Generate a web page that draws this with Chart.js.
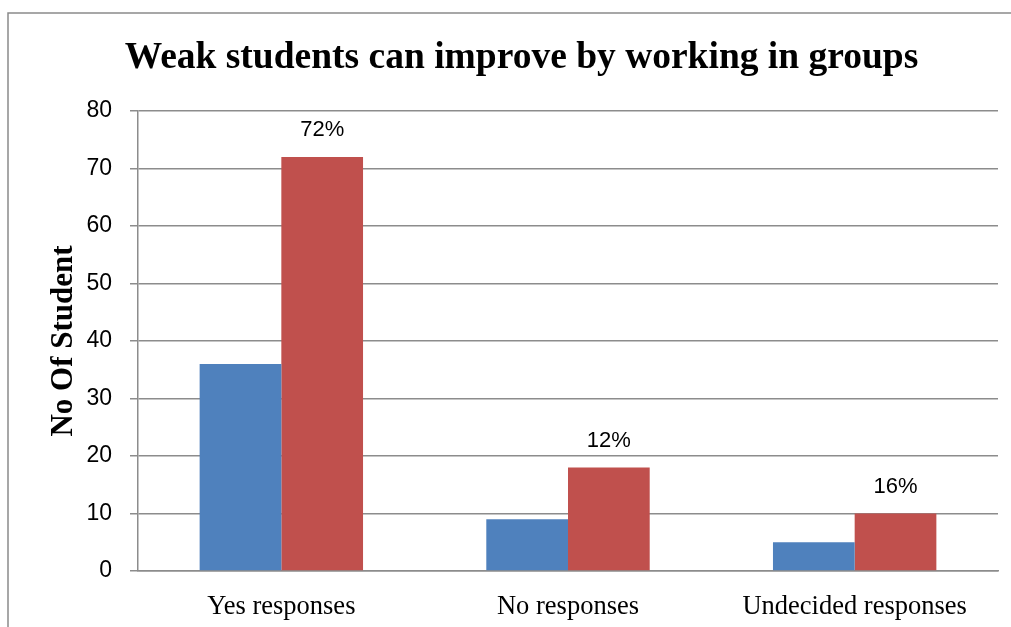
<!DOCTYPE html>
<html>
<head>
<meta charset="utf-8">
<script src="https://cdn.jsdelivr.net/npm/chart.js@4"></script>
<style>
  html, body { margin: 0; padding: 0; background: #fff; }
  #wrap { width: 1011px; height: 627px; }
</style>
</head>
<body>
<div id="wrap"><canvas id="myChart" width="1011" height="627"></canvas></div>
<script>
// chart data
const categories = ['Yes responses', 'No responses', 'Undecided responses'];
const studentCounts = [36, 9, 5];
const percentValues = [72, 18, 10];
const percentLabels = ['72%', '12%', '16%'];
const yTicks = [0, 10, 20, 30, 40, 50, 60, 70, 80];

const gridGray = '#8c8c8c';
const sansFont = "'Liberation Sans', Arial, sans-serif";
const serifFont = "'Liberation Serif', 'Times New Roman', serif";

// frame lines round the chart (top and left only, like the source)
const framePlugin = {
    id: 'frame',
    beforeDraw(chart) {
        const c = chart.ctx;
        c.save();
        c.strokeStyle = '#8a8a8a';
        c.lineWidth = 1.5;
        c.beginPath();
        c.moveTo(8, chart.height);
        c.lineTo(8, 13);
        c.lineTo(chart.width, 13);
        c.stroke();
        c.restore();
    }
};

// percent labels over the red bars
const labelPlugin = {
    id: 'barLabels',
    afterDatasetsDraw(chart) {
        const c = chart.ctx;
        const meta = chart.getDatasetMeta(1);
        c.save();
        c.font = '22px ' + sansFont;
        c.fillStyle = '#000';
        c.textAlign = 'center';
        c.textBaseline = 'middle';
        meta.data.forEach((bar, i) => {
            c.fillText(percentLabels[i], bar.x, bar.y - 27);
        });
        c.restore();
    }
};

const ctx = document.getElementById('myChart').getContext('2d');

const myChart = new Chart(ctx, {
    type: 'bar',
    data: {
        labels: categories,
        datasets: [{
            label: 'No of students',
            data: studentCounts,
            backgroundColor: '#4F81BD',
            categoryPercentage: 0.57,
            barPercentage: 1
        }, {
            label: 'Percentage',
            data: percentValues,
            backgroundColor: '#C0504D',
            categoryPercentage: 0.57,
            barPercentage: 1
        }]
    },
    options: {
        responsive: false,
        animation: false,
        layout: {
            padding: { left: 45, right: 13, top: 13, bottom: 0 }
        },
        plugins: {
            legend: { display: false },
            tooltip: { enabled: false },
            title: {
                display: true,
                text: 'Weak students can improve by working in groups',
                color: '#000',
                font: { family: serifFont, size: 37.5, weight: 'bold' },
                padding: { top: 23, bottom: 30 }
            }
        },
        scales: {
            x: {
                grid: { display: false },
                border: { display: true, color: gridGray, width: 1.5 },
                ticks: {
                    color: '#000',
                    padding: 12,
                    font: { family: serifFont, size: 26.5 }
                },
                afterFit(scale) { scale.height = 56; }
            },
            y: {
                min: 0,
                max: 80,
                afterBuildTicks(scale) {
                    scale.ticks = yTicks.map(v => ({ value: v }));
                },
                grid: {
                    color: gridGray,
                    lineWidth: 1.5,
                    tickLength: 8,
                    drawTicks: true
                },
                border: { display: true, color: gridGray, width: 1.5 },
                ticks: {
                    color: '#000',
                    padding: 18,
                    font: { family: sansFont, size: 23 }
                },
                title: {
                    display: true,
                    text: 'No Of Student',
                    color: '#000',
                    padding: { top: 0, bottom: 0 },
                    font: { family: serifFont, size: 31, weight: 'bold' }
                },
                afterFit(scale) { scale.width = 93; }
            }
        }
    },
    plugins: [framePlugin, labelPlugin]
});
</script>
</body>
</html>
